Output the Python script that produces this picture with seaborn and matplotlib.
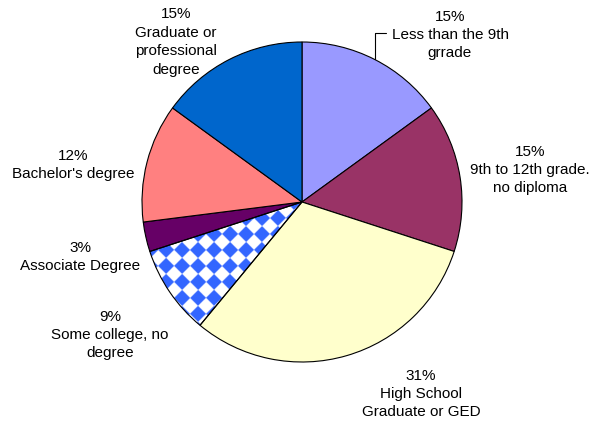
import numpy as np
import seaborn as sns
import matplotlib.pyplot as plt

# Data
categories = ["Less than the 9th\ngrrade", "9th to 12th grade.\nno diploma",
              "High School\nGraduate or GED", "Some college, no\ndegree",
              "Associate Degree", "Bachelor's degree", "Graduate or\nprofessional\ndegree"]
shares = [15, 15, 31, 9, 3, 12, 15]
colors = ["#9999FF", "#993366", "#FFFFCC", "none", "#660066", "#FF8080", "#0066CC"]

# label centres in pixels (x, y from top)
label_pos = [(450, 35), (530, 170), (421, 394), (110, 335), (80, 257), (73, 165), (176, 42)]

sns.set_theme(style="white")
plt.rcParams['font.family'] = ['Liberation Sans', 'DejaVu Sans']

W, H = 593, 425
fig = plt.figure(figsize=(W / 100, H / 100), dpi=100)
cx, cy, r = 302, 202, 160
ax = fig.add_axes([(cx - r) / W, (H - cy - r) / H, 2 * r / W, 2 * r / H])

wedges, _ = ax.pie(shares, colors=colors, startangle=90, counterclock=False,
                   wedgeprops=dict(edgecolor="black", linewidth=0.8))

# checkered fill for "Some college"
g = np.linspace(-1.05, 1.05, 900)
X, Y = np.meshgrid(g, g)
s = 0.1
pat = (np.floor((X + Y) / s) + np.floor((X - Y) / s)) % 2
rgb = np.where(pat[..., None] == 0, np.array([0.2, 0.4, 1.0]), np.array([1.0, 1.0, 1.0]))
im = ax.imshow(rgb, extent=(-1.05, 1.05, -1.05, 1.05), origin="lower", zorder=0.5,
               interpolation="bilinear")
im.set_clip_path(wedges[3])
wedges[3].set_zorder(2)

ax.set_xlim(-1, 1)
ax.set_ylim(-1, 1)
ax.set_aspect("auto")
ax.axis("off")

for name, v, (px, py) in zip(categories, shares, label_pos):
    fig.text(px / W, 1 - py / H, f"{v}%\n{name}", ha="center", va="center",
             fontsize=11, linespacing=1.4, color="black")

# leader line for the first slice
w0 = wedges[0]
mid = np.deg2rad((w0.theta1 + w0.theta2) / 2)
ax.annotate("", xy=(np.cos(mid), np.sin(mid)), xycoords="data",
            xytext=(386 / W, 1 - 33 / H), textcoords="figure fraction",
            arrowprops=dict(arrowstyle="-", color="black", lw=0.8,
                            connectionstyle="angle,angleA=0,angleB=90,rad=0",
                            shrinkA=0, shrinkB=0))

fig.savefig("out.png", dpi=100, facecolor="white")
